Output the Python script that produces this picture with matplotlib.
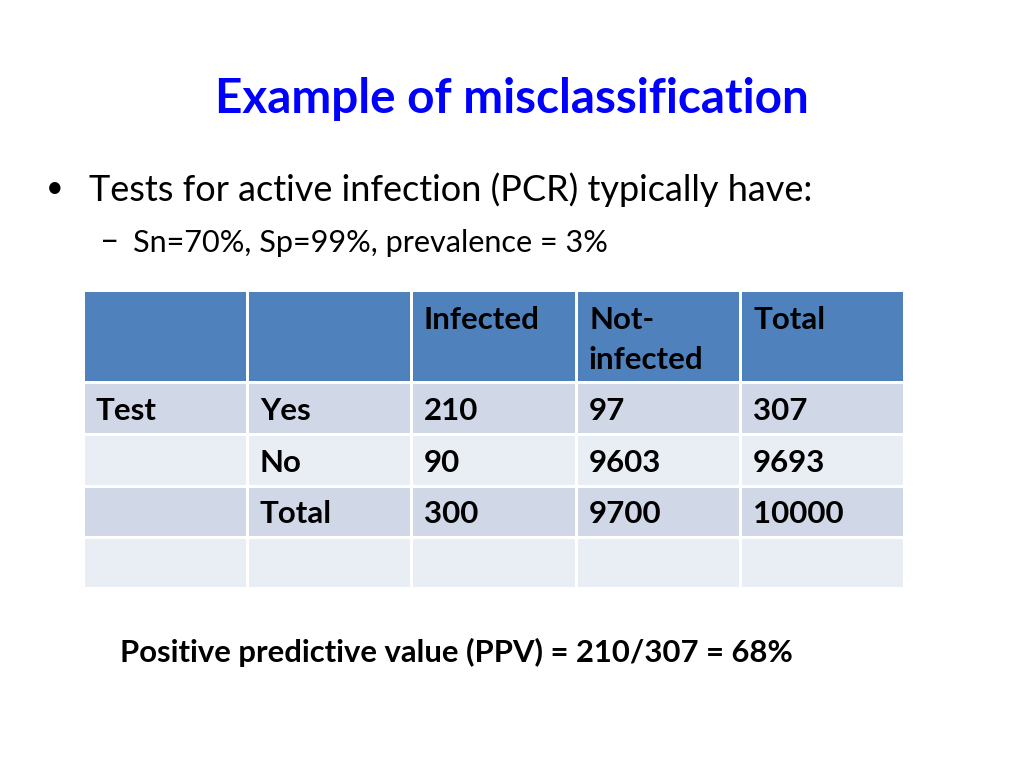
import matplotlib
matplotlib.use("Agg")
import matplotlib.pyplot as plt
from matplotlib.patches import Rectangle

plt.rcParams['font.family'] = ['Lato', 'DejaVu Sans']

title = "Example of misclassification"
bullet = "Tests for active infection (PCR) typically have:"
sub_bullet = "Sn=70%, Sp=99%, prevalence = 3%"
ppv_text = "Positive predictive value (PPV) = 210/307 = 68%"

# table contents
header = ["", "", "Infected", "Not-\ninfected", "Total"]
row_group = ["Test", "", "", ""]
row_labels = ["Yes", "No", "Total", ""]
infected = ["210", "90", "300", ""]
not_infected = ["97", "9603", "9700", ""]
totals = ["307", "9693", "10000", ""]

fig = plt.figure(figsize=(10.24, 7.68), dpi=100)
ax = fig.add_axes([0, 0, 1, 1])
ax.set_xlim(0, 1024)
ax.set_ylim(768, 0)
ax.axis('off')

ax.text(512, 99, title, color='#0000FF', fontsize=34.3, fontweight='bold',
        ha='center', va='center')
ax.text(55, 188, u"\u2022", fontsize=22, ha='center', va='center')
ax.text(89, 190, bullet, fontsize=26, ha='left', va='center')
ax.text(110, 242, u"\u2013", fontsize=24, ha='center', va='center')
ax.text(133, 243, sub_bullet, fontsize=22.1, ha='left', va='center')

col_edges = [85, 249, 413, 578, 742, 906]
row_edges = [292, 384, 436, 488, 539, 590]
gap = 3
fills = ['#4F81BD', '#D0D8E8', '#E9EDF4', '#D0D8E8', '#E9EDF4']

rows = [header]
for i in range(len(row_labels)):
    rows.append([row_group[i], row_labels[i], infected[i], not_infected[i], totals[i]])

for r, cells in enumerate(rows):
    y0, y1 = row_edges[r], row_edges[r + 1]
    for c, txt in enumerate(cells):
        x0, x1 = col_edges[c], col_edges[c + 1]
        ax.add_patch(Rectangle((x0, y0), x1 - x0 - gap, y1 - y0 - gap,
                               facecolor=fills[r], edgecolor='none'))
        if not txt:
            continue
        if r == 0:
            for k, line in enumerate(txt.split("\n")):
                ax.text(x0 + 11, 320 + 40 * k, line, fontsize=22.5, fontweight='bold',
                        ha='left', va='center', color='black')
        else:
            ax.text(x0 + 11, (y0 + y1 - gap) / 2 + 2, txt, fontsize=22.5, fontweight='bold',
                    ha='left', va='center', color='black')

ax.text(120, 652, ppv_text, fontsize=22.3, fontweight='bold', ha='left', va='center')

fig.savefig('out.png', dpi=100)
